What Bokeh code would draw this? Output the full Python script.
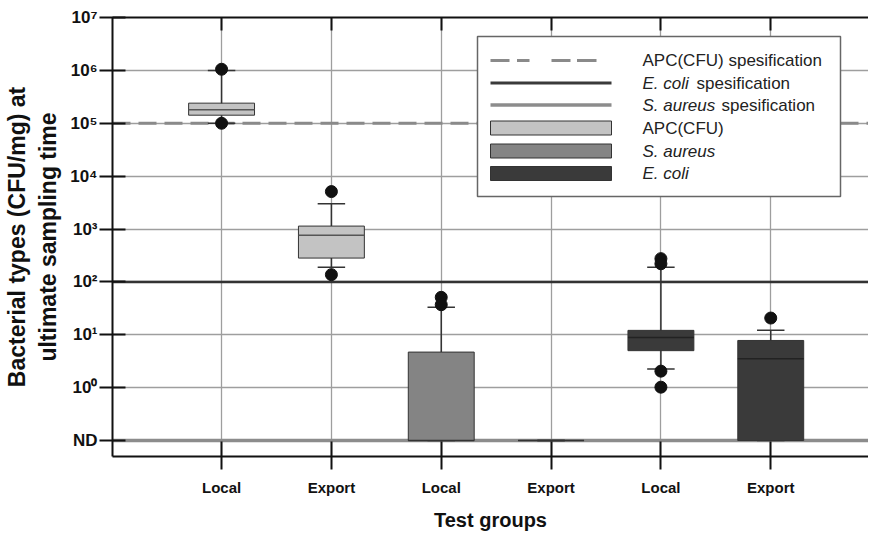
import numpy as np
from bokeh.plotting import figure
from bokeh.models import Range1d, FixedTicker, LinearAxis, Span, BoxAnnotation, Label
from bokeh.embed import file_html
from bokeh.resources import INLINE

# ---------------- data ----------------
groups = ["Local", "Export", "Local", "Export", "Local", "Export"]
bacteria = ["APC(CFU)", "APC(CFU)", "S. aureus", "S. aureus", "E. coli", "E. coli"]
ND = 0.1  # "not detected" level
q1 = [1.42e5, 282, ND, ND, 5.0, ND]
median = [1.8e5, 760, ND, ND, 8.9, 3.5]
q3 = [2.4e5, 1135, 4.7, ND, 12.1, 7.8]
whisker_low = [1.0e5, 190, ND, ND, 2.25, ND]
whisker_high = [1.0e6, 3000, 33, ND, 190, 12.1]
outlier_group = [1, 1, 2, 2, 3, 3, 5, 5, 5, 5, 6]
outlier_value = [1.05e6, 1.0e5, 5100, 137, 51, 37, 275, 220, 2.05, 1.02, 20.7]
apc_spec = 1e5
ecoli_spec = 1e2
saureus_spec = ND
y_ticks = [ND, 1, 10, 100, 1000, 10000, 100000, 1000000, 10000000]
y_tick_labels = ["ND", "10\u2070", "10\u00b9", "10\u00b2", "10\u00b3", "10\u2074", "10\u2075", "10\u2076", "10\u2077"]
fill_colors = {"APC(CFU)": "#c3c3c3", "S. aureus": "#848484", "E. coli": "#3a3a3a"}
median_colors = {"APC(CFU)": "#555555", "S. aureus": "#333333", "E. coli": "#222222"}
spec_names = ["APC(CFU) spesification", "E. coli spesification", "S. aureus spesification"]
y_title = "Bacterial types (CFU/mg) at\nultimate sampling time"
x_title = "Test groups"

positions = list(range(1, len(groups) + 1))
FONT = "Liberation Sans"

p = figure(width=868, height=533, y_axis_type="log",
           x_range=Range1d(0.007, 6.89), y_range=Range1d(10 ** -1.3026, 1e7),
           output_backend="svg", toolbar_location=None,
           min_border_left=112, min_border_right=0, min_border_top=17, min_border_bottom=77)
p.outline_line_color = None
p.background_fill_color = "white"
p.border_fill_color = "white"

# grids
p.xgrid.ticker = FixedTicker(ticks=positions)
p.ygrid.ticker = FixedTicker(ticks=y_ticks)
for g in (p.xgrid[0], p.ygrid[0]):
    g.grid_line_color = "#9e9e9e"
    g.grid_line_width = 1.3

# y axis
ya = p.yaxis[0]
ya.ticker = FixedTicker(ticks=y_ticks)
ya.major_label_overrides = {t: l for t, l in zip(y_ticks, y_tick_labels)}
ya.axis_line_width = 2
ya.axis_line_color = "#111111"
ya.major_tick_in = 13
ya.major_tick_out = 13
ya.major_tick_line_width = 2
ya.major_tick_line_color = "#111111"
ya.minor_tick_line_color = None
ya.major_label_text_font = FONT
ya.major_label_text_font_style = "bold"
ya.major_label_text_font_size = "17px"
ya.major_label_text_color = "#111111"
ya.major_label_standoff = 2
ya.axis_label = y_title
ya.axis_label_text_font = FONT
ya.axis_label_text_font_style = "bold"
ya.axis_label_text_font_size = "23px"
ya.axis_label_text_color = "#111111"
ya.axis_label_standoff = 6

# x axis
xa = p.xaxis[0]
xa.ticker = FixedTicker(ticks=positions)
xa.major_label_overrides = {i: g for i, g in zip(positions, groups)}
xa.axis_line_width = 2
xa.axis_line_color = "#111111"
xa.major_tick_in = 15
xa.major_tick_out = 13
xa.major_tick_line_width = 2
xa.major_tick_line_color = "#111111"
xa.minor_tick_line_color = None
xa.major_label_text_font = FONT
xa.major_label_text_font_style = "bold"
xa.major_label_text_font_size = "15px"
xa.major_label_text_color = "#111111"
xa.major_label_standoff = 9
xa.axis_label = x_title
xa.axis_label_text_font = FONT
xa.axis_label_text_font_style = "bold"
xa.axis_label_text_font_size = "20px"
xa.axis_label_text_color = "#111111"
xa.axis_label_standoff = 10

# top axis (frame edge with inward ticks, no labels)
top = LinearAxis(ticker=FixedTicker(ticks=positions))
top.axis_line_width = 2
top.axis_line_color = "#111111"
top.major_tick_in = 13
top.major_tick_out = 0
top.major_tick_line_width = 2
top.major_tick_line_color = "#111111"
top.minor_tick_line_color = None
top.major_label_overrides = {i: "" for i in positions}
top.major_label_standoff = 0
p.add_layout(top, "above")

# specification lines
p.add_layout(Span(location=apc_spec, dimension="width", line_color="#8a8a8a",
                  line_width=3, line_dash="18 8", level="underlay"))
p.add_layout(Span(location=ecoli_spec, dimension="width", line_color="#333333",
                  line_width=2.5, level="underlay"))
p.add_layout(Span(location=saureus_spec, dimension="width", line_color="#8c8c8c",
                  line_width=3.5, level="underlay"))

pos = np.array(positions, dtype=float)
box_w = 0.6
cap_w = 0.25

# whiskers
p.segment(x0=pos, y0=whisker_low, x1=pos, y1=whisker_high, line_color="#333333", line_width=1.5)
p.segment(x0=pos - cap_w / 2, y0=whisker_high, x1=pos + cap_w / 2, y1=whisker_high,
          line_color="#333333", line_width=1.5)
p.segment(x0=pos - cap_w / 2, y0=whisker_low, x1=pos + cap_w / 2, y1=whisker_low,
          line_color="#333333", line_width=1.5)

# boxes
p.vbar(x=pos, width=box_w, bottom=q1, top=q3,
       fill_color=[fill_colors[b] for b in bacteria], line_color="#333333", line_width=1)
# medians
p.segment(x0=pos - box_w / 2, y0=median, x1=pos + box_w / 2, y1=median,
          line_color=[median_colors[b] for b in bacteria], line_width=1.5)
# outliers
p.scatter(x=outlier_group, y=outlier_value, size=12, fill_color="#111111", line_color="#111111")

# ---------------- custom legend ----------------
L, T, R, B = 477, 36, 840, 196
p.add_layout(BoxAnnotation(left=L, right=R, top=T, bottom=B, left_units="canvas",
                           right_units="canvas", top_units="canvas", bottom_units="canvas",
                           fill_color="white", fill_alpha=1, line_color="#666666",
                           line_width=1.5, line_alpha=1))
rows = [60, 82.5, 104.5, 127.5, 150.5, 173]
gx0, gx1 = 490, 611
tx = 642


def hbox(x0, x1, yc, h, fill, line=None):
    p.add_layout(BoxAnnotation(left=x0, right=x1, top=yc - h / 2, bottom=yc + h / 2,
                               left_units="canvas", right_units="canvas",
                               top_units="canvas", bottom_units="canvas",
                               fill_color=fill, fill_alpha=1,
                               line_color=line, line_alpha=1 if line else 0, line_width=1))


def txt(x, yc, s, style="normal"):
    p.add_layout(Label(x=x, y=yc, x_units="canvas", y_units="canvas", text=s,
                       text_align="left", text_baseline="middle", text_font=FONT,
                       text_font_style=style, text_font_size="17px", text_color="#222222"))


# dashed line
for a, b in [(490, 509), (516.5, 529), (551, 570), (576.5, 596)]:
    hbox(a, b, rows[0], 3, "#8a8a8a")
txt(tx, rows[0], spec_names[0])
hbox(gx0, gx1, rows[1], 3, "#3a3a3a")
txt(tx, rows[1], "E. coli", "italic")
txt(tx + 54, rows[1], "spesification")
hbox(gx0, gx1, rows[2], 3.5, "#8c8c8c")
txt(tx, rows[2], "S. aureus", "italic")
txt(tx + 79, rows[2], "spesification")
for r, name in zip(rows[3:], ["APC(CFU)", "S. aureus", "E. coli"]):
    hbox(gx0, gx1, r, 14, fill_colors[name], "#333333")
    txt(tx, r, name, "normal" if name.startswith("APC") else "italic")

open("out.html", "w").write(file_html(p, INLINE))
